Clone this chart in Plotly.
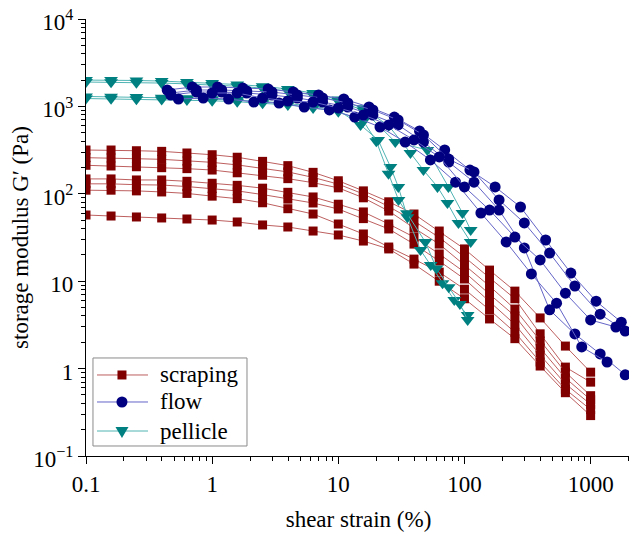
import plotly.graph_objects as go

# ---------------- data ----------------
strain_grid = [0.1, 0.158, 0.251, 0.398, 0.631, 1, 1.58, 2.51, 3.98, 6.31, 10,
               15.8, 25.1, 39.8, 63.1, 100, 158, 251, 398, 631, 1000]

scraping_1 = [317, 317, 311, 306, 293, 280, 262, 235, 210, 176, 141, 108, 81, 58.7, 37.5, 23.4, 13.4, 7.7, 3.8, 1.81, 0.91]
scraping_2 = [259, 257, 252, 248, 237, 229, 214, 196, 178, 154, 129, 99.5, 71.5, 48.8, 31.6, 18.9, 10.9, 6.3, 2.5, 1.04, 0.70]
scraping_3 = [212, 208, 204, 199, 194, 187, 174, 163, 149, 134, 117, 90, 63.5, 40.6, 26.6, 15.3, 8.8, 4.8, 2.07, 0.91, 0.49]
scraping_4 = [148, 148, 144, 144, 139, 132, 125, 116, 104, 92, 76, 62, 45.1, 32, 20.5, 12.7, 7.1, 4.0, 1.72, 0.78, 0.44]
scraping_5 = [130, 130, 127, 126, 121, 115, 108, 98, 87, 78.5, 67, 52, 39.6, 26.6, 17, 10.6, 5.8, 3.2, 1.43, 0.67, 0.39]
scraping_6 = [110, 110, 108, 105, 101, 94, 88, 79, 67.5, 58.7, 45.1, 34.7, 24.6, 17.9, 12.7, 8.1, 4.7, 2.6, 1.19, 0.58, 0.34]
scraping_7 = [57.2, 55.7, 54.3, 52.9, 51.5, 50.1, 47.6, 44, 41.7, 37.5, 33.8, 28.8, 23.4, 15.7, 10, 6.3, 3.7, 2.2, 1.07, 0.53, 0.29]

flow_1_x = [0.44, 0.697, 1.105, 1.75, 2.78, 4.4, 6.97, 11.05, 17.5, 27.8, 44, 69.7, 110.5, 175, 278, 440, 697, 1105, 1750]
flow_1_y = [1540, 1667, 1667, 1623, 1582, 1461, 1350, 1215, 984, 756, 523, 317, 187, 120, 70.6, 29.6, 12.4, 5.9, 3.4]
flow_2_x = [0.47, 0.75, 1.19, 1.88, 2.98, 4.73, 7.5, 11.9, 18.8, 29.8, 47.3, 75, 119, 188, 298, 473, 750, 1190, 1880]
flow_2_y = [1423, 1540, 1540, 1501, 1461, 1350, 1248, 1094, 910, 699, 471, 250, 178, 85, 46.4, 21, 8.8, 4.2, 2.69]
flow_3_x = [0.47, 0.75, 1.19, 1.88, 2.98, 4.73, 7.5, 11.9, 18.8, 29.8, 47.3, 75, 119, 188, 298, 473, 750, 1190, 1880]
flow_3_y = [1350, 1461, 1461, 1423, 1350, 1248, 1123, 984, 797, 613, 391, 231, 136, 65.2, 24, 4.7, 2.49, 1.47, 0.85]
flow_4_x = [0.54, 0.85, 1.35, 2.14, 3.39, 5.37, 8.5, 13.5, 21.4, 33.9, 53.7, 85, 135, 214, 339, 537, 850, 1350]
flow_4_y = [1215, 1248, 1215, 1123, 1094, 984, 910, 756, 581, 391, 244, 136, 60.3, 28.1, 12.1, 5.6, 1.77, 1.19]
flow_5_x = [1, 1.58, 2.51, 3.98, 6.31, 10, 15.8, 25.1, 39.8, 63.1, 100, 158, 251, 398, 631, 1000, 1585]
flow_5_y = [1423, 1423, 1248, 1153, 1123, 959, 797, 613, 413, 264, 120, 65.2, 32, 17.5, 7.3, 3.6, 2.99]

pellicle_1_x = [0.1, 0.158, 0.251, 0.398, 0.631, 1, 1.58, 2.51, 3.98, 6.31, 10, 15.8, 25.1, 37.3, 47.3, 61.1, 73.3, 89.6, 112]
pellicle_1_y = [2000, 2000, 1980, 1950, 1900, 1850, 1780, 1700, 1580, 1420, 1200, 950, 600, 293, 187, 120, 78.5, 46.4, 28.1]
pellicle_2_x = [0.1, 0.158, 0.251, 0.398, 0.631, 1, 1.58, 2.51, 3.98, 6.31, 10, 15.8, 28.3, 50.8, 74.6, 96.4, 112]
pellicle_2_y = [1900, 1890, 1870, 1850, 1810, 1760, 1700, 1620, 1500, 1350, 1150, 900, 391, 317, 120, 60.3, 38.5]
pellicle_3_x = [0.1, 0.158, 0.251, 0.398, 0.631, 1, 1.58, 2.51, 3.98, 6.31, 10, 15, 20.7, 25.9, 29.9, 35.3, 44.8, 54, 67, 83, 106]
pellicle_3_y = [1300, 1290, 1280, 1260, 1240, 1210, 1180, 1140, 1080, 1000, 900, 613, 413, 203, 120, 54, 22.7, 15.3, 9.5, 6.1, 4.1]
pellicle_4_x = [0.1, 0.158, 0.251, 0.398, 0.631, 1, 1.58, 2.51, 3.98, 6.31, 10, 15.8, 20, 25, 30, 35, 49, 60, 75, 92, 106]
pellicle_4_y = [1230, 1220, 1210, 1200, 1180, 1160, 1130, 1090, 1040, 960, 870, 680, 400, 170, 85, 60, 28, 14, 8.5, 5.5, 3.6]

legend_names = ["scraping", "flow", "pellicle"]

x_tick_vals = [0.1, 1, 10, 100, 1000]
x_tick_text = ["0.1", "1", "10", "100", "1000"]
y_tick_vals = [0.1, 1, 10, 100, 1000, 10000]
y_tick_text = ["10<sup>\u22121</sup>", "1", "10", "10<sup>2</sup>", "10<sup>3</sup>", "10<sup>4</sup>"]

# ---------------- styles ----------------
FONT = "Liberation Serif, Times New Roman, serif"
STYLE = {
    "scraping": dict(mcol="#800000", lcol="rgb(190,95,95)", sym="square", size=9),
    "flow": dict(mcol="#000080", lcol="rgb(100,100,200)", sym="circle", size=11),
    "pellicle": dict(mcol="#008080", lcol="rgb(80,180,180)", sym="triangle-down", size=12),
}

fig = go.Figure()

series = [
    ("scraping", [(strain_grid, s) for s in [scraping_1, scraping_2, scraping_3, scraping_4,
                                            scraping_5, scraping_6, scraping_7]]),
    ("pellicle", [(pellicle_1_x, pellicle_1_y), (pellicle_2_x, pellicle_2_y),
                  (pellicle_3_x, pellicle_3_y), (pellicle_4_x, pellicle_4_y)]),
    ("flow", [(flow_1_x, flow_1_y), (flow_2_x, flow_2_y), (flow_3_x, flow_3_y),
              (flow_4_x, flow_4_y), (flow_5_x, flow_5_y)]),
]

for name, curves in series:
    st = STYLE[name]
    for xs, ys in curves:
        fig.add_trace(go.Scatter(
            x=xs, y=ys, mode="lines+markers", name=name, showlegend=False,
            line=dict(color=st["lcol"], width=1),
            marker=dict(symbol=st["sym"], size=st["size"], color=st["mcol"], line=dict(width=0)),
        ))

# ---------------- hand-drawn legend (paper coordinates) ----------------
shapes = [dict(type="rect", xref="paper", yref="paper", x0=0.0128, x1=0.2954,
               y0=0.0229, y1=0.2243, line=dict(color="#8a8a8a", width=1),
               fillcolor="white", layer="above")]
annotations = []
row_y = [0.1854, 0.1236, 0.0572]
mx = 0.066
for name, ry in zip(legend_names, row_y):
    st = STYLE[name]
    shapes.append(dict(type="line", xref="paper", yref="paper", x0=0.0202, x1=0.1138,
                       y0=ry, y1=ry, line=dict(color=st["lcol"], width=1), layer="above"))
    common = dict(xref="paper", yref="paper", xsizemode="pixel", ysizemode="pixel",
                  xanchor=mx, yanchor=ry, fillcolor=st["mcol"],
                  line=dict(width=0), layer="above")
    if st["sym"] == "square":
        shapes.append(dict(type="rect", x0=-4.5, x1=4.5, y0=-4.5, y1=4.5, **common))
    elif st["sym"] == "circle":
        shapes.append(dict(type="circle", x0=-5.5, x1=5.5, y0=-5.5, y1=5.5, **common))
    else:
        shapes.append(dict(type="path", path="M -6.5,4 L 6.5,4 L 0,-7 Z", **common))
    annotations.append(dict(xref="paper", yref="paper", x=0.1321, y=ry,
                            xanchor="left", yanchor="middle", text=name, showarrow=False,
                            font=dict(family=FONT, size=23, color="black")))

minor_vals = [k * 10 ** d for d in range(-1, 4) for k in range(2, 10)]

# the page body adds an 8px offset, so the figure is sized to fit the window
fig.update_layout(
    width=629, height=525,
    margin=dict(l=78, r=6, t=11, b=77, autoexpand=False),
    paper_bgcolor="white", plot_bgcolor="white",
    font=dict(family=FONT, size=23, color="black"),
    showlegend=False,
    shapes=shapes, annotations=annotations,
)

fig.update_xaxes(
    type="log", range=[-1, 3.32], automargin=False,
    tickvals=x_tick_vals, ticktext=x_tick_text, ticklabeloverflow="allow",
    ticks="outside", ticklen=7, tickwidth=1, tickcolor="black",
    showline=True, linecolor="black", linewidth=1.2,
    showgrid=False, zeroline=False,
    minor=dict(tickvals=[v for v in minor_vals if v < 2100], ticks="outside",
               ticklen=4, tickcolor="black", showgrid=False),
    tickfont=dict(family=FONT, size=23),
    title=dict(text="shear strain (%)", font=dict(family=FONT, size=23), standoff=15),
)
fig.update_yaxes(
    type="log", range=[-1, 4], automargin=False,
    tickvals=y_tick_vals, ticktext=y_tick_text, ticklabeloverflow="allow",
    ticklabelshift=3,
    ticks="outside", ticklen=7, tickwidth=1, tickcolor="black",
    showline=True, linecolor="black", linewidth=1.2,
    showgrid=False, zeroline=False,
    minor=dict(tickvals=minor_vals, ticks="outside",
               ticklen=4, tickcolor="black", showgrid=False),
    tickfont=dict(family=FONT, size=23),
    title=dict(text="storage modulus G\u2032 (Pa)", font=dict(family=FONT, size=23), standoff=0),
)

fig.write_html("out.html")
